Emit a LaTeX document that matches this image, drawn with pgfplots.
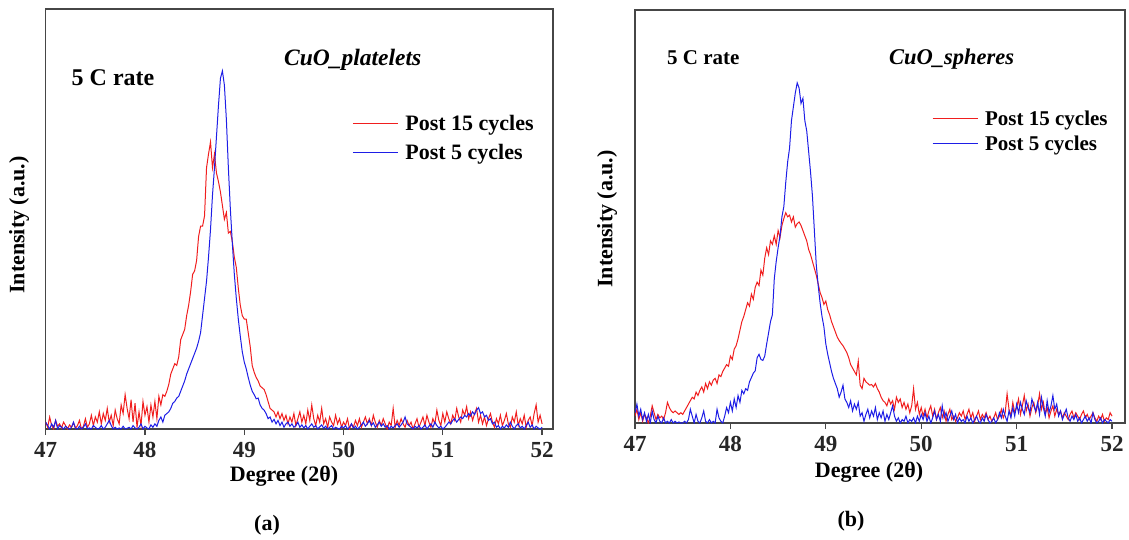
\documentclass[border=0pt]{standalone}
\usepackage{fontspec}
\setmainfont{Liberation Serif}
\usepackage{pgfplots}
\pgfplotsset{compat=1.18}
\definecolor{myred}{RGB}{240,30,30}
\definecolor{myblue}{RGB}{30,30,230}
\definecolor{axgray}{RGB}{70,70,70}
\pgfplotsset{
 xrdaxis/.style={
  scale only axis,
  xmin=47, ymin=0,
  xtick={47,48,49,50,51,52},
  ytick=\empty,
  tick align=outside,
  xtick pos=left,
  major tick length=6pt,
  axis line style={draw=axgray, line width=1.3pt},
  every tick/.style={draw=axgray, line width=1.3pt},
  /pgf/number format/assume math mode=true,
  xticklabel style={font=\fontsize{23}{26}\selectfont\bfseries, text=black!85, yshift=-4pt},
  legend cell align=left,
  legend image code/.code={\draw[##1] (0pt,0pt) -- (45pt,0pt);},
  every axis plot/.append style={line width=1pt},
 }
}
\begin{document}
\begin{tikzpicture}
\useasboundingbox (0,0) rectangle (1129pt,539pt);
% ---------------- (a) CuO platelets
\begin{axis}[xrdaxis, at={(45.7pt,110pt)}, anchor=south west, width=507.3pt, height=420pt, xmax=52.11, ymax=1222,
 legend style={draw=none, fill=none, inner sep=0pt, at={(0.604,0.752)}, anchor=north west, font=\fontsize{22}{26}\selectfont\bfseries, row sep=8pt, column sep=5pt}]
\addplot[myred] coordinates {
(47.00,20)(47.02,5)(47.04,35)(47.06,10)(47.08,0)(47.10,25)(47.12,8)(47.14,15)(47.16,3)(47.18,20)
(47.20,10)(47.22,0)(47.24,12)(47.26,5)(47.28,18)(47.30,2)(47.32,10)(47.34,25)(47.36,0)(47.38,8)
(47.40,30)(47.42,5)(47.44,15)(47.46,40)(47.48,10)(47.50,35)(47.52,20)(47.54,50)(47.56,15)(47.58,45)
(47.60,25)(47.62,60)(47.64,20)(47.66,40)(47.68,10)(47.70,55)(47.72,30)(47.74,15)(47.76,70)(47.78,45)
(47.80,100)(47.82,60)(47.84,30)(47.86,85)(47.88,20)(47.90,75)(47.92,5)(47.94,50)(47.96,10)(47.98,80)
(48.00,40)(48.02,65)(48.04,20)(48.06,70)(48.08,35)(48.10,80)(48.12,30)(48.14,95)(48.16,70)(48.18,100)
(48.20,95)(48.22,110)(48.24,130)(48.26,160)(48.28,175)(48.30,190)(48.32,185)(48.34,210)(48.36,260)(48.38,275)
(48.40,290)(48.42,330)(48.44,360)(48.46,400)(48.48,450)(48.50,460)(48.52,490)(48.54,560)(48.56,590)(48.58,590)
(48.60,620)(48.62,760)(48.64,800)(48.66,835)(48.68,760)(48.70,800)(48.72,745)(48.74,720)(48.76,690)(48.78,650)
(48.80,610)(48.82,630)(48.84,570)(48.86,575)(48.88,545)(48.90,500)(48.92,470)(48.94,410)(48.96,360)(48.98,330)
(49.00,320)(49.02,320)(49.04,280)(49.06,240)(49.08,185)(49.10,165)(49.12,150)(49.14,140)(49.16,125)(49.18,120)
(49.20,115)(49.22,100)(49.24,80)(49.26,60)(49.28,55)(49.30,50)(49.32,35)(49.34,50)(49.36,30)(49.38,45)
(49.40,25)(49.42,40)(49.44,15)(49.46,35)(49.48,20)(49.50,45)(49.52,10)(49.54,30)(49.56,50)(49.58,20)
(49.60,40)(49.62,15)(49.64,55)(49.66,25)(49.68,70)(49.70,30)(49.72,10)(49.74,40)(49.76,20)(49.78,60)
(49.80,15)(49.82,30)(49.84,5)(49.86,35)(49.88,20)(49.90,10)(49.92,40)(49.94,15)(49.96,30)(49.98,5)
(50.00,20)(50.02,10)(50.04,30)(50.06,0)(50.08,15)(50.10,5)(50.12,25)(50.14,10)(50.16,30)(50.18,5)
(50.20,20)(50.22,35)(50.24,15)(50.26,30)(50.28,10)(50.30,40)(50.32,20)(50.34,5)(50.36,25)(50.38,10)
(50.40,30)(50.42,15)(50.44,0)(50.46,20)(50.48,10)(50.50,60)(50.52,5)(50.54,25)(50.56,10)(50.58,30)
(50.60,15)(50.62,5)(50.64,25)(50.66,10)(50.68,20)(50.70,0)(50.72,15)(50.74,30)(50.76,5)(50.78,20)
(50.80,35)(50.82,10)(50.84,40)(50.86,20)(50.88,5)(50.90,30)(50.92,15)(50.94,55)(50.96,25)(50.98,10)
(51.00,45)(51.02,20)(51.04,50)(51.06,30)(51.08,15)(51.10,40)(51.12,25)(51.14,60)(51.16,35)(51.18,20)
(51.20,55)(51.22,40)(51.24,65)(51.26,30)(51.28,50)(51.30,25)(51.32,45)(51.34,60)(51.36,20)(51.38,40)
(51.40,15)(51.42,35)(51.44,10)(51.46,30)(51.48,45)(51.50,20)(51.52,5)(51.54,30)(51.56,15)(51.58,40)
(51.60,10)(51.62,25)(51.64,45)(51.66,15)(51.68,5)(51.70,35)(51.72,20)(51.74,50)(51.76,10)(51.78,30)
(51.80,15)(51.82,40)(51.84,5)(51.86,25)(51.88,35)(51.90,10)(51.92,45)(51.94,70)(51.96,20)(51.98,40)
(52.00,15)};
\addlegendentry{Post 15 cycles}
\addplot[myblue] coordinates {
(47.00,20)(47.02,10)(47.04,0)(47.06,15)(47.08,5)(47.10,25)(47.12,0)(47.14,10)(47.16,5)(47.18,0)
(47.20,8)(47.22,3)(47.24,0)(47.26,5)(47.28,20)(47.30,2)(47.32,0)(47.34,8)(47.36,0)(47.38,5)
(47.40,15)(47.42,0)(47.44,3)(47.46,0)(47.48,10)(47.50,5)(47.52,0)(47.54,2)(47.56,10)(47.58,0)
(47.60,5)(47.62,15)(47.64,25)(47.66,10)(47.68,0)(47.70,5)(47.72,0)(47.74,3)(47.76,0)(47.78,8)
(47.80,0)(47.82,2)(47.84,5)(47.86,0)(47.88,10)(47.90,3)(47.92,0)(47.94,5)(47.96,15)(47.98,0)
(48.00,8)(48.02,3)(48.04,0)(48.06,12)(48.08,5)(48.10,15)(48.12,8)(48.14,25)(48.16,35)(48.18,20)
(48.20,40)(48.22,45)(48.24,50)(48.26,60)(48.28,75)(48.30,80)(48.32,90)(48.34,95)(48.36,110)(48.38,125)
(48.40,140)(48.42,160)(48.44,175)(48.46,190)(48.48,205)(48.50,220)(48.52,235)(48.54,255)(48.56,280)(48.58,330)
(48.60,380)(48.62,430)(48.64,500)(48.66,580)(48.68,680)(48.70,760)(48.72,850)(48.74,940)(48.76,1020)(48.78,1042)
(48.80,1000)(48.82,900)(48.84,760)(48.86,640)(48.88,540)(48.90,450)(48.92,380)(48.94,320)(48.96,270)(48.98,225)
(49.00,195)(49.02,175)(49.04,150)(49.06,128)(49.08,110)(49.10,100)(49.12,88)(49.14,90)(49.16,70)(49.18,60)
(49.20,55)(49.22,45)(49.24,30)(49.26,35)(49.28,20)(49.30,28)(49.32,15)(49.34,25)(49.36,10)(49.38,20)
(49.40,5)(49.42,15)(49.44,20)(49.46,8)(49.48,15)(49.50,5)(49.52,10)(49.54,20)(49.56,5)(49.58,12)
(49.60,3)(49.62,10)(49.64,0)(49.66,8)(49.68,15)(49.70,5)(49.72,10)(49.74,0)(49.76,6)(49.78,12)
(49.80,2)(49.82,8)(49.84,0)(49.86,5)(49.88,10)(49.90,0)(49.92,5)(49.94,2)(49.96,0)(49.98,8)
(50.00,3)(50.02,10)(50.04,0)(50.06,5)(50.08,15)(50.10,2)(50.12,8)(50.14,0)(50.16,5)(50.18,12)
(50.20,20)(50.22,8)(50.24,15)(50.26,25)(50.28,10)(50.30,18)(50.32,5)(50.34,12)(50.36,20)(50.38,8)
(50.40,15)(50.42,5)(50.44,10)(50.46,0)(50.48,8)(50.50,3)(50.52,10)(50.54,15)(50.56,5)(50.58,12)
(50.60,20)(50.62,35)(50.64,15)(50.66,10)(50.68,5)(50.70,0)(50.72,8)(50.74,3)(50.76,10)(50.78,0)
(50.80,5)(50.82,12)(50.84,0)(50.86,8)(50.88,15)(50.90,5)(50.92,20)(50.94,10)(50.96,3)(50.98,8)
(51.00,0)(51.02,5)(51.04,12)(51.06,20)(51.08,15)(51.10,25)(51.12,30)(51.14,20)(51.16,28)(51.18,35)
(51.20,30)(51.22,40)(51.24,35)(51.26,45)(51.28,38)(51.30,50)(51.32,42)(51.34,55)(51.36,62)(51.38,45)
(51.40,50)(51.42,35)(51.44,40)(51.46,25)(51.48,30)(51.50,15)(51.52,20)(51.54,5)(51.56,10)(51.58,0)
(51.60,8)(51.62,3)(51.64,12)(51.66,5)(51.68,20)(51.70,8)(51.72,0)(51.74,10)(51.76,15)(51.78,3)
(51.80,8)(51.82,0)(51.84,10)(51.86,20)(51.88,5)(51.90,12)(51.92,0)(51.94,8)(51.96,3)(51.98,0)
(52.00,5)};
\addlegendentry{Post 5 cycles}
\end{axis}
% ---------------- (b) CuO spheres
\begin{axis}[xrdaxis, at={(635pt,116pt)}, anchor=south west, width=490pt, height=413pt, xmax=52.136, ymax=1202,
 legend style={draw=none, fill=none, inner sep=0pt, at={(0.606,0.762)}, anchor=north west, font=\fontsize{21}{25}\selectfont\bfseries, row sep=5pt, column sep=5pt}]
\addplot[myred] coordinates {
(47.00,20)(47.02,40)(47.04,10)(47.06,30)(47.08,5)(47.10,25)(47.12,15)(47.14,0)(47.16,20)(47.18,50)
(47.20,30)(47.22,10)(47.24,25)(47.26,15)(47.28,20)(47.30,10)(47.32,30)(47.34,60)(47.36,45)(47.38,35)
(47.40,30)(47.42,35)(47.44,30)(47.46,25)(47.48,30)(47.50,25)(47.52,35)(47.54,45)(47.56,55)(47.58,65)
(47.60,75)(47.62,70)(47.64,90)(47.66,80)(47.68,95)(47.70,105)(47.72,90)(47.74,115)(47.76,100)(47.78,120)
(47.80,110)(47.82,125)(47.84,130)(47.86,115)(47.88,140)(47.90,135)(47.92,150)(47.94,160)(47.96,170)(47.98,165)
(48.00,195)(48.02,185)(48.04,215)(48.06,225)(48.08,245)(48.10,270)(48.12,295)(48.14,310)(48.16,330)(48.18,350)
(48.20,340)(48.22,375)(48.24,360)(48.26,395)(48.28,410)(48.30,400)(48.32,445)(48.34,430)(48.36,480)(48.38,510)
(48.40,490)(48.42,530)(48.44,520)(48.46,545)(48.48,520)(48.50,560)(48.52,540)(48.54,575)(48.56,595)(48.58,612)
(48.60,600)(48.62,605)(48.64,585)(48.66,600)(48.68,570)(48.70,580)(48.72,585)(48.74,575)(48.76,560)(48.78,545)
(48.80,530)(48.82,505)(48.84,490)(48.86,470)(48.88,450)(48.90,430)(48.92,405)(48.94,380)(48.96,365)(48.98,345)
(49.00,355)(49.02,330)(49.04,315)(49.06,295)(49.08,280)(49.10,265)(49.12,250)(49.14,240)(49.16,232)(49.18,225)
(49.20,215)(49.22,205)(49.24,190)(49.26,170)(49.28,160)(49.30,150)(49.32,140)(49.34,180)(49.36,110)(49.38,100)
(49.40,130)(49.42,120)(49.44,115)(49.46,110)(49.48,112)(49.50,105)(49.52,115)(49.54,100)(49.56,90)(49.58,75)
(49.60,65)(49.62,60)(49.64,50)(49.66,70)(49.68,55)(49.70,65)(49.72,40)(49.74,75)(49.76,60)(49.78,70)
(49.80,45)(49.82,60)(49.84,40)(49.86,55)(49.88,30)(49.90,50)(49.92,100)(49.94,40)(49.96,60)(49.98,25)
(50.00,45)(50.02,20)(50.04,40)(50.06,15)(50.08,35)(50.10,50)(50.12,20)(50.14,40)(50.16,10)(50.18,30)
(50.20,45)(50.22,15)(50.24,35)(50.26,5)(50.28,25)(50.30,40)(50.32,10)(50.34,20)(50.36,5)(50.38,15)
(50.40,30)(50.42,20)(50.44,35)(50.46,10)(50.48,25)(50.50,40)(50.52,15)(50.54,30)(50.56,5)(50.58,20)
(50.60,35)(50.62,10)(50.64,25)(50.66,15)(50.68,30)(50.70,10)(50.72,20)(50.74,5)(50.76,15)(50.78,30)
(50.80,10)(50.82,20)(50.84,40)(50.86,15)(50.88,30)(50.90,85)(50.92,40)(50.94,20)(50.96,60)(50.98,30)
(51.00,45)(51.02,70)(51.04,25)(51.06,50)(51.08,80)(51.10,35)(51.12,55)(51.14,20)(51.16,45)(51.18,60)
(51.20,30)(51.22,50)(51.24,85)(51.26,40)(51.28,60)(51.30,25)(51.32,45)(51.34,15)(51.36,35)(51.38,50)
(51.40,20)(51.42,40)(51.44,25)(51.46,35)(51.48,15)(51.50,30)(51.52,20)(51.54,10)(51.56,25)(51.58,35)
(51.60,15)(51.62,30)(51.64,20)(51.66,10)(51.68,25)(51.70,35)(51.72,15)(51.74,25)(51.76,10)(51.78,20)
(51.80,30)(51.82,15)(51.84,5)(51.86,20)(51.88,10)(51.90,25)(51.92,5)(51.94,15)(51.96,10)(51.98,30)
(52.00,20)};
\addlegendentry{Post 15 cycles}
\addplot[myblue] coordinates {
(47.00,30)(47.02,55)(47.04,20)(47.06,40)(47.08,10)(47.10,30)(47.12,5)(47.14,25)(47.16,0)(47.18,35)
(47.20,10)(47.22,0)(47.24,20)(47.26,5)(47.28,0)(47.30,15)(47.32,0)(47.34,5)(47.36,0)(47.38,10)
(47.40,0)(47.42,5)(47.44,0)(47.46,3)(47.48,0)(47.50,0)(47.52,5)(47.54,0)(47.56,10)(47.58,40)
(47.60,20)(47.62,0)(47.64,25)(47.66,5)(47.68,0)(47.70,15)(47.72,35)(47.74,5)(47.76,0)(47.78,10)
(47.80,0)(47.82,5)(47.84,0)(47.86,40)(47.88,15)(47.90,5)(47.92,0)(47.94,20)(47.96,45)(47.98,30)
(48.00,60)(48.02,35)(48.04,70)(48.06,45)(48.08,80)(48.10,60)(48.12,95)(48.14,85)(48.16,100)(48.18,95)
(48.20,120)(48.22,132)(48.24,145)(48.26,152)(48.28,190)(48.30,200)(48.32,185)(48.34,182)(48.36,195)(48.38,230)
(48.40,262)(48.42,295)(48.44,315)(48.46,420)(48.48,470)(48.50,510)(48.52,545)(48.54,600)(48.56,630)(48.58,700)
(48.60,760)(48.62,800)(48.64,880)(48.66,920)(48.68,960)(48.70,990)(48.72,975)(48.74,930)(48.76,945)(48.78,880)
(48.80,850)(48.82,790)(48.84,730)(48.86,660)(48.88,560)(48.90,460)(48.92,400)(48.94,350)(48.96,310)(48.98,280)
(49.00,230)(49.02,200)(49.04,175)(49.06,150)(49.08,130)(49.10,115)(49.12,100)(49.14,75)(49.16,90)(49.18,110)
(49.20,70)(49.22,60)(49.24,45)(49.26,65)(49.28,35)(49.30,55)(49.32,40)(49.34,60)(49.36,20)(49.38,30)
(49.40,5)(49.42,25)(49.44,40)(49.46,15)(49.48,35)(49.50,20)(49.52,45)(49.54,10)(49.56,30)(49.58,15)
(49.60,35)(49.62,5)(49.64,25)(49.66,10)(49.68,30)(49.70,50)(49.72,20)(49.74,5)(49.76,15)(49.78,0)
(49.80,10)(49.82,5)(49.84,20)(49.86,0)(49.88,10)(49.90,5)(49.92,15)(49.94,0)(49.96,20)(49.98,5)
(50.00,25)(50.02,10)(50.04,30)(50.06,5)(50.08,20)(50.10,0)(50.12,15)(50.14,35)(50.16,10)(50.18,25)
(50.20,5)(50.22,50)(50.24,15)(50.26,30)(50.28,5)(50.30,20)(50.32,35)(50.34,10)(50.36,25)(50.38,0)
(50.40,15)(50.42,5)(50.44,10)(50.46,0)(50.48,20)(50.50,5)(50.52,15)(50.54,0)(50.56,10)(50.58,20)
(50.60,5)(50.62,0)(50.64,15)(50.66,5)(50.68,25)(50.70,10)(50.72,0)(50.74,5)(50.76,15)(50.78,0)
(50.80,10)(50.82,30)(50.84,15)(50.86,40)(50.88,20)(50.90,5)(50.92,35)(50.94,15)(50.96,45)(50.98,20)
(51.00,55)(51.02,30)(51.04,60)(51.06,40)(51.08,25)(51.10,65)(51.12,45)(51.14,30)(51.16,70)(51.18,50)
(51.20,35)(51.22,60)(51.24,25)(51.26,75)(51.28,45)(51.30,20)(51.32,65)(51.34,30)(51.36,50)(51.38,80)
(51.40,40)(51.42,55)(51.44,20)(51.46,35)(51.48,10)(51.50,25)(51.52,40)(51.54,15)(51.56,5)(51.58,20)
(51.60,10)(51.62,25)(51.64,5)(51.66,15)(51.68,0)(51.70,10)(51.72,20)(51.74,5)(51.76,15)(51.78,0)
(51.80,30)(51.82,10)(51.84,0)(51.86,5)(51.88,15)(51.90,0)(51.92,10)(51.94,5)(51.96,0)(51.98,10)
(52.00,5)};
\addlegendentry{Post 5 cycles}
\end{axis}
% ---------------- annotations
\node[anchor=base west, inner sep=0pt, font=\fontsize{24}{28}\selectfont\bfseries] at (71.5pt,453pt) {5 C rate};
\node[anchor=base west, inner sep=0pt, font=\fontsize{23.5}{28}\selectfont\bfseries\itshape] at (284pt,473pt) {CuO\_platelets};
\node[rotate=90, inner sep=0pt, font=\fontsize{22}{26}\selectfont\bfseries] at (19pt,314pt) {Intensity (a.u.)};
\node[inner sep=0pt, font=\fontsize{22}{26}\selectfont\bfseries] at (284pt,63pt) {Degree (2θ)};
\node[inner sep=0pt, font=\fontsize{22}{26}\selectfont\bfseries] at (267pt,14pt) {(a)};
\node[anchor=base west, inner sep=0pt, font=\fontsize{21}{25}\selectfont\bfseries] at (667pt,474pt) {5 C rate};
\node[anchor=base west, inner sep=0pt, font=\fontsize{22.5}{27}\selectfont\bfseries\itshape] at (889pt,474pt) {CuO\_spheres};
\node[rotate=90, inner sep=0pt, font=\fontsize{22}{26}\selectfont\bfseries] at (607pt,320pt) {Intensity (a.u.)};
\node[inner sep=0pt, font=\fontsize{22}{26}\selectfont\bfseries] at (869pt,67pt) {Degree (2θ)};
\node[inner sep=0pt, font=\fontsize{22}{26}\selectfont\bfseries] at (851pt,18pt) {(b)};
\end{tikzpicture}
\end{document}
